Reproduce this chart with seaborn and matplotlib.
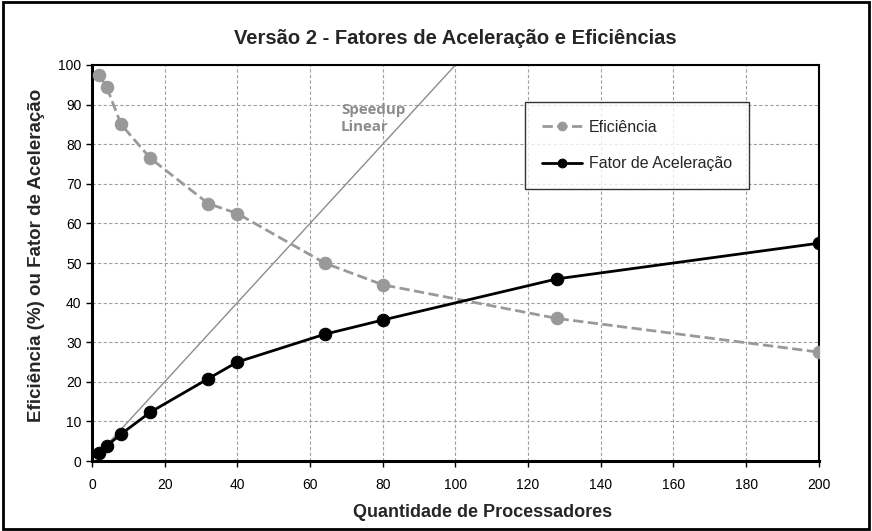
import matplotlib
matplotlib.use("Agg")
import matplotlib.pyplot as plt
import seaborn as sns
import pandas as pd

sns.set_theme(style="white")
plt.rcParams['font.family'] = ['Liberation Sans', 'DejaVu Sans']

processadores = [2, 4, 8, 16, 32, 40, 64, 80, 128, 200]
eficiencia = [97.5, 94.5, 85.0, 76.5, 65.0, 62.5, 50.0, 44.5, 36.0, 27.5]
fator_aceleracao = [1.95, 3.8, 6.8, 12.3, 20.8, 25.0, 32.0, 35.6, 46.0, 55.0]
linear_x = [1, 100]
linear_y = [1, 100]

df = pd.DataFrame({'p': processadores, 'ef': eficiencia, 'fa': fator_aceleracao})
df_lin = pd.DataFrame({'x': linear_x, 'y': linear_y})

fig = plt.figure(figsize=(8.72, 5.31), dpi=100)
ax = fig.add_axes([0.1055, 0.1318, 0.8335, 0.7458])

sns.lineplot(data=df_lin, x='x', y='y', ax=ax, color='#8c8c8c', linewidth=1.0, zorder=2)
sns.lineplot(data=df, x='p', y='ef', ax=ax, color='#999999', linewidth=2, linestyle='--',
             marker='o', markersize=9, markeredgecolor='#999999', label='Eficiência', zorder=3)
sns.lineplot(data=df, x='p', y='fa', ax=ax, color='black', linewidth=2,
             marker='o', markersize=9, markeredgecolor='black', label='Fator de Aceleração', zorder=4)

ax.set_xlim(0, 200)
ax.set_ylim(0, 100)
ax.set_xticks(range(0, 201, 20))
ax.set_yticks(range(0, 101, 10))
ax.grid(True, color='#a0a0a0', linestyle=(0, (3, 2)), linewidth=0.8)
ax.set_axisbelow(True)
for s in ax.spines.values():
    s.set_color('black')
    s.set_linewidth(1.5)
ax.spines['left'].set_linewidth(2.2)
ax.spines['bottom'].set_linewidth(2.2)
ax.tick_params(axis='both', labelsize=10, colors='black', length=4, width=1, direction='out',
               bottom=True, left=True)
ax.tick_params(axis='x', pad=8)

ax.set_xlabel('Quantidade de Processadores', fontsize=13, fontweight='bold')
ax.xaxis.set_label_coords(0.538, -0.108)
ax.set_ylabel('Eficiência (%) ou Fator de Aceleração', fontsize=13.5, fontweight='bold')
ax.yaxis.set_label_coords(-0.065, 0.52)
ax.set_title('Versão 2 - Fatores de Aceleração e Eficiências', fontsize=14.5, fontweight='bold', pad=15)

ax.text(68.5, 86.5, 'Speedup\nLinear', color='#8c8c8c', fontsize=10.8, fontweight='bold',
        family=['Open Sans', 'DejaVu Sans'], ha='left', va='center', linespacing=1.3)

leg = ax.legend(loc='upper left', bbox_to_anchor=(0.5956, 0.9066), frameon=True, fancybox=False,
                edgecolor='black', fontsize=11.5, labelspacing=1.35, borderpad=1.1, handlelength=2.5,
                handletextpad=0.4, borderaxespad=0, markerscale=0.7)
leg.get_frame().set_linewidth(1.0)

fig.patches.append(plt.Rectangle((0.003, 0.003), 0.994, 0.994, transform=fig.transFigure,
                                 fill=False, edgecolor='black', linewidth=2))

fig.savefig('out.png', dpi=100, facecolor='white')
